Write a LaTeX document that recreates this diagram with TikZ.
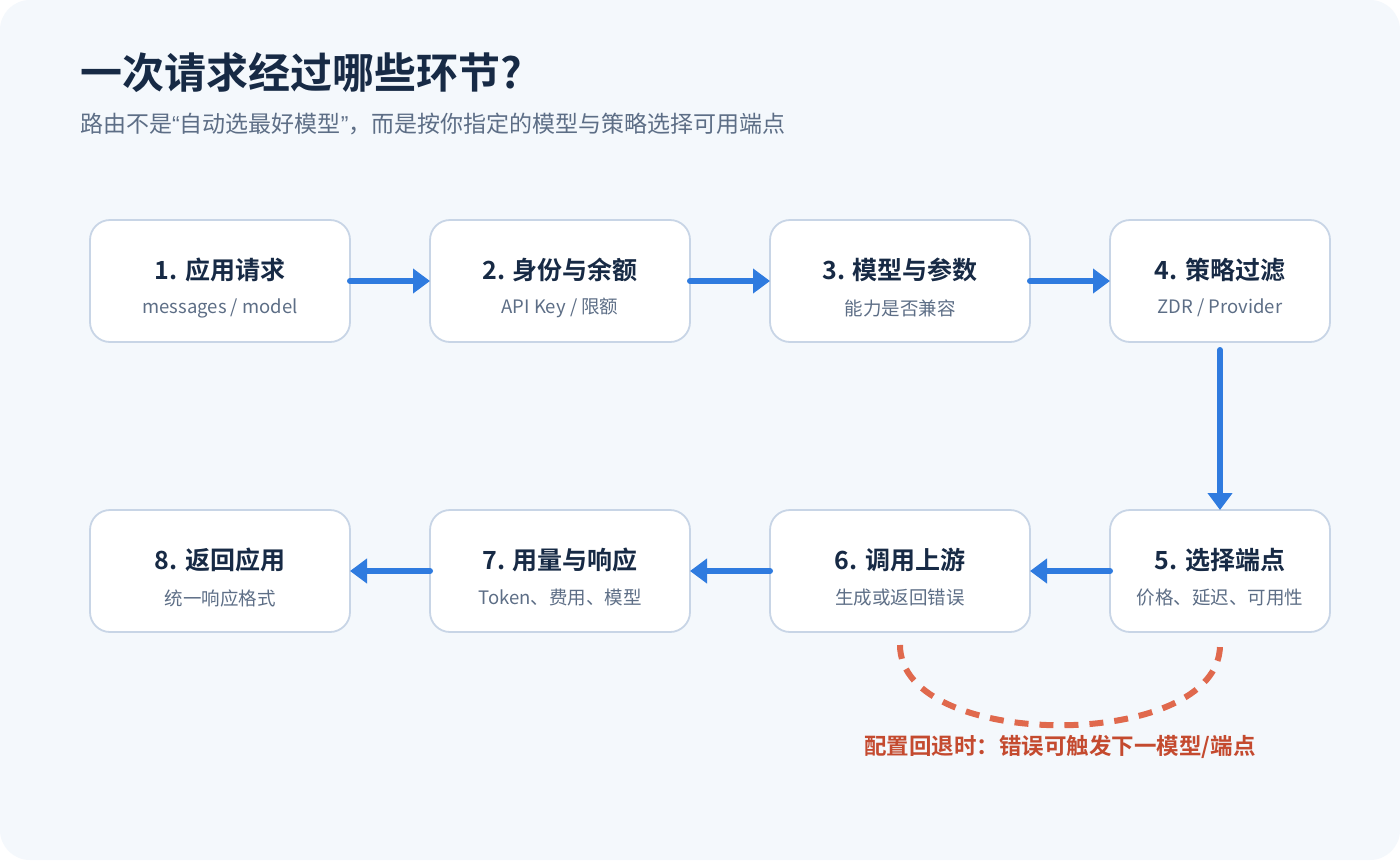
\documentclass[tikz,border=0pt]{standalone}
\usepackage{fontspec}
\setmainfont{Noto Sans CJK SC}[BoldFont={Noto Sans CJK SC Bold}]
\newfontfamily\quotefont{Liberation Sans}
\usetikzlibrary{arrows.meta,positioning}
\definecolor{pagebg}{HTML}{F4F8FC}
\definecolor{boxline}{HTML}{C8D5E6}
\definecolor{ink}{HTML}{172A45}
\definecolor{muted}{HTML}{5D6E86}
\definecolor{flowblue}{HTML}{2F7BDF}
\definecolor{retry}{HTML}{E0694D}
\definecolor{retrytext}{HTML}{C44A2F}

\begin{document}
\begin{tikzpicture}[x=1pt, y=1pt,
     box/.style={draw=boxline, line width=1.8pt, fill=white, rounded corners=20pt,
                 minimum width=260pt, minimum height=122pt, inner sep=0pt, outer sep=0pt},
     narrow/.style={minimum width=220pt},
     ttl/.style={inner sep=0pt, text=ink, font=\fontsize{25}{30}\selectfont\bfseries},
     sub/.style={inner sep=0pt, text=muted, font=\fontsize{18.5}{22}\selectfont},
     flow/.style={draw=flowblue, line width=6pt, line cap=round,
                  -{Triangle[length=17pt, width=24pt]}},
     retryline/.style={draw=retry, line width=6pt, dash pattern=on 14pt off 11pt},
     note/.style={inner sep=0pt, text=retrytext, font=\fontsize{22.5}{27}\selectfont\bfseries}]
   \useasboundingbox (0,0) rectangle (1400,-860);
   \fill[white] (0,0) rectangle (1400,-860);
   \fill[pagebg, rounded corners=30pt] (0,0) rectangle (1400,-860);

   % heading
   \node[inner sep=0pt, anchor=west, text=ink, font=\fontsize{42}{50}\selectfont\bfseries]
        (title) at (80,-73) {一次请求经过哪些环节?};
   \node[inner sep=0pt, anchor=west, text=muted, font=\fontsize{23}{28}\selectfont]
        (lead) at (80,-124) {路由不是{\quotefont “}自动选最好模型{\quotefont ”}，而是按你指定的模型与策略选择可用端点};

   % steps
   \node[box] (b1) at (220,-281) {};
   \node[box, right=80pt of b1] (b2) {};
   \node[box, right=80pt of b2] (b3) {};
   \node[box, narrow, right=80pt of b3] (b4) {};
   \node[box, narrow, below=168pt of b4] (b5) {};
   \node[box, left=80pt of b5] (b6) {};
   \node[box, left=80pt of b6] (b7) {};
   \node[box, left=80pt of b7] (b8) {};

   \node[ttl] (t1) at ([yshift=11pt]b1.center) {1. 应用请求};
   \node[sub] (s1) at ([yshift=-27pt]b1.center) {messages / model};
   \node[ttl] (t2) at ([yshift=11pt]b2.center) {2. 身份与余额};
   \node[sub] (s2) at ([yshift=-27pt]b2.center) {API Key / 限额};
   \node[ttl] (t3) at ([yshift=11pt]b3.center) {3. 模型与参数};
   \node[sub] (s3) at ([yshift=-27pt]b3.center) {能力是否兼容};
   \node[ttl] (t4) at ([yshift=11pt]b4.center) {4. 策略过滤};
   \node[sub] (s4) at ([yshift=-27pt]b4.center) {ZDR / Provider};
   \node[ttl] (t5) at ([yshift=11pt]b5.center) {5. 选择端点};
   \node[sub] (s5) at ([yshift=-27pt]b5.center) {价格、延迟、可用性};
   \node[ttl] (t6) at ([yshift=11pt]b6.center) {6. 调用上游};
   \node[sub] (s6) at ([yshift=-27pt]b6.center) {生成或返回错误};
   \node[ttl] (t7) at ([yshift=11pt]b7.center) {7. 用量与响应};
   \node[sub] (s7) at ([yshift=-27pt]b7.center) {Token、费用、模型};
   \node[ttl] (t8) at ([yshift=11pt]b8.center) {8. 返回应用};
   \node[sub] (s8) at ([yshift=-27pt]b8.center) {统一响应格式};

   % flow
   \draw[flow] (b1) -- (b2);
   \draw[flow] (b2) -- (b3);
   \draw[flow] (b3) -- (b4);
   \draw[flow, shorten <=8pt] (b4) -- (b5);
   \draw[flow] (b5) -- (b6);
   \draw[flow] (b6) -- (b7);
   \draw[flow] (b7) -- (b8);

   % fallback
   \coordinate (fa) at ([yshift=-13pt]b6.south);
   \coordinate (fb) at ([yshift=-13pt]b5.south);
   \draw[retryline] (fa) .. controls +(0,-107) and +(0,-107) .. (fb);
   \node[note] (fbnote) at (1060,-747) {配置回退时：错误可触发下一模型/端点};
  \end{tikzpicture}
\end{document}
